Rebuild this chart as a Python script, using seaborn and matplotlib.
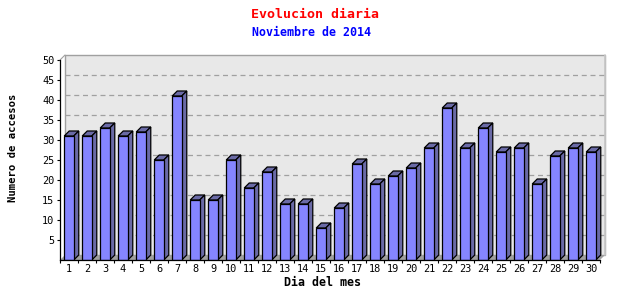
import matplotlib
matplotlib.use("Agg")
import matplotlib.pyplot as plt
import seaborn as sns
import pandas as pd
from matplotlib.patches import Polygon, Rectangle
from matplotlib.ticker import FixedLocator

days = [str(d) for d in range(1, 31)]
visits = [31, 31, 33, 31, 32, 25, 41, 15, 15, 25, 18, 22, 14, 14, 8,
          13, 24, 19, 21, 23, 28, 38, 28, 33, 27, 28, 19, 26, 28, 27]
y_ticks = [5, 10, 15, 20, 25, 30, 35, 40, 45, 50]

title = "Evolucion diaria"
subtitle = "Noviembre de 2014"
xlabel = "Dia del mes"
ylabel = "Numero de accesos"

sns.set_theme(style="white")
plt.rcParams['font.family'] = ['DejaVu Sans Mono', 'DejaVu Sans']

W, H = 640, 300
fig = plt.figure(figsize=(W / 100, H / 100), dpi=100)
fig.patch.set_facecolor("white")
L, R, T, B = 60, 600, 60, 260
ax = fig.add_axes([L / W, (H - B) / H, (R - L) / W, (B - T) / H])
ax.set_facecolor("none")

df = pd.DataFrame({"day": days, "visits": visits})
sns.barplot(data=df, x="day", y="visits", ax=ax, color="#8585ff",
            saturation=1, width=0.53, edgecolor="black", linewidth=0.9,
            zorder=5)

ax.set_xlim(-0.5, 29.5)
ax.set_ylim(0, 50)

# pixel -> data conversions for the 3D depth
px_x = 30 / (R - L)
px_y = 50 / (B - T)
dx = 5 * px_x
dy = 5 * px_y

# back wall
wall = Rectangle((-0.5 + dx, dy), 30, 50, facecolor="#e8e8e8",
                 edgecolor="#a0a0a0", linewidth=1, clip_on=False, zorder=0)
ax.add_patch(wall)
# diagonal connecting the axis to the wall
ax.plot([-0.5, -0.5 + dx], [50, 50 + dy], color="#a0a0a0", lw=0.8,
        clip_on=False, zorder=1)
# floor
floor = Polygon([(-0.5, 0), (29.5, 0), (29.5 + dx, dy), (-0.5 + dx, dy)],
                closed=True, facecolor="#a0a0a0", edgecolor="none",
                clip_on=False, zorder=1)
ax.add_patch(floor)
# right wall shading
ax.plot([29.5 + dx - 0.5 * px_x] * 2, [dy, 50 + dy], color="#c8c8c8",
        lw=1.2, clip_on=False, zorder=1)

# dashed gridlines on back wall
for v in y_ticks[:-1]:
    ax.plot([-0.5 + dx, 29.5 + dx], [v + dy, v + dy], color="#a0a0a0",
            lw=0.9, dashes=(4, 3), clip_on=False, zorder=2)

# 3D sides and tops of bars
side_col = "#6a6aa6"
for p in list(ax.patches):
    if not isinstance(p, Rectangle) or p is wall:
        continue
    x0 = p.get_x()
    w = p.get_width()
    h = p.get_height()
    if h <= 0 or w > 5:
        continue
    top = Polygon([(x0, h), (x0 + dx, h + dy), (x0 + w + dx, h + dy), (x0 + w, h)],
                  closed=True, facecolor=side_col, edgecolor="black",
                  linewidth=0.9, zorder=4, clip_on=False)
    side = Polygon([(x0 + w, 0), (x0 + w, h), (x0 + w + dx, h + dy), (x0 + w + dx, dy)],
                   closed=True, facecolor=side_col, edgecolor="black",
                   linewidth=0.9, zorder=4, clip_on=False)
    ax.add_patch(top)
    ax.add_patch(side)

# spines
for s in ["top", "right"]:
    ax.spines[s].set_visible(False)
for s in ["left", "bottom"]:
    ax.spines[s].set_color("black")
    ax.spines[s].set_linewidth(0.9)
    ax.spines[s].set_zorder(6)

ax.set_yticks(y_ticks)
ax.set_yticklabels([str(v) for v in y_ticks], fontsize=7.4)
ax.tick_params(axis="y", direction="out", length=2.5, width=0.8, pad=1.5,
               left=True, colors="black")
ax.set_xticks(range(30))
ax.set_xticklabels(days, fontsize=7.4)
ax.tick_params(axis="x", which="major", length=0, pad=3, colors="black")
ax.xaxis.set_minor_locator(FixedLocator([i + 0.5 for i in range(-1, 30)]))
ax.tick_params(axis="x", which="minor", direction="out", length=2.5,
               width=0.8, bottom=True, colors="black")
ax.set_xlabel("")
ax.set_ylabel("")

fig.text(315 / W, 1 - 14 / H, title, color="red", fontsize=9.5,
         fontweight="bold", ha="center", va="center")
fig.text(312 / W, 1 - 32 / H, subtitle, color="blue", fontsize=8.4,
         fontweight="bold", ha="center", va="center")
fig.text(323 / W, 1 - 282 / H, xlabel, color="black", fontsize=8.4,
         fontweight="bold", ha="center", va="center")
fig.text(13 / W, 1 - 148 / H, ylabel, color="black", fontsize=7.6,
         fontweight="bold", ha="center", va="center", rotation=90)

fig.savefig("out.png", dpi=100)
